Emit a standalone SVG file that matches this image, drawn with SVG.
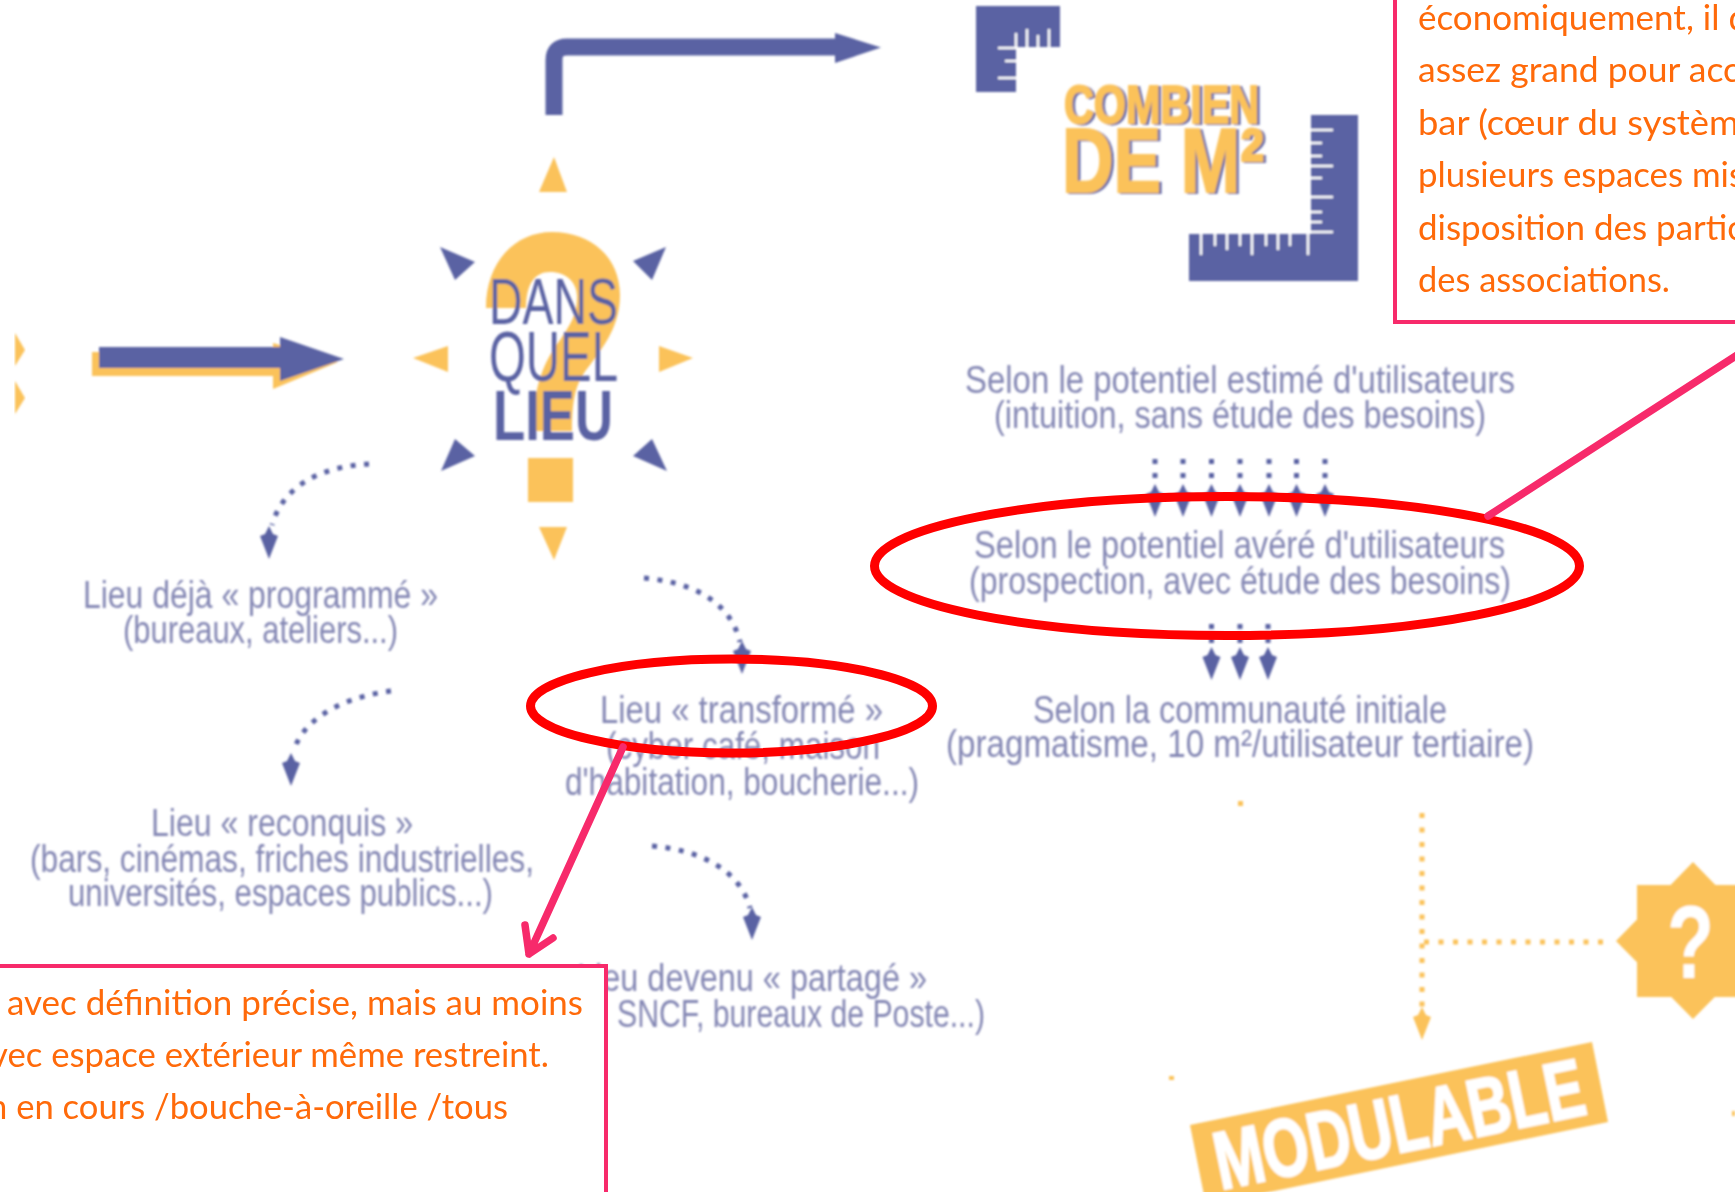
<svg xmlns="http://www.w3.org/2000/svg" xmlns:xlink="http://www.w3.org/1999/xlink" width="1735" height="1192" viewBox="0 0 1735 1192">
<style>
.blue{fill:#5a62a3}
.or{fill:#fbc25a}
.lbl{font-family:"Liberation Sans",Arial,sans-serif;font-size:38px;fill:#8487b4}
.note{font-family:"Lato","Liberation Sans",sans-serif;font-size:34px;fill:#ff6a0a}
.dot{fill:none;stroke:#5a62a3;stroke-width:5;stroke-dasharray:5 8.500}
.dotv{fill:none;stroke:#5a62a3;stroke-width:5;stroke-dasharray:5 9}
.doto{fill:none;stroke:#fbc25a;stroke-width:5;stroke-dasharray:5 9.500}
.pink{fill:none;stroke:#f72a6b;stroke-width:7.500;stroke-linecap:round;stroke-linejoin:round}
.box{fill:#fff;stroke:#f72a6b;stroke-width:4}
.red{fill:none;stroke:#f00;stroke-width:9}
.tick{stroke:#fff;stroke-width:2.500;fill:none}
.h{font-family:"Liberation Sans",Arial,sans-serif}
.heavy{stroke:#fbc25a;stroke-width:2}
</style>
<defs>
<filter id="soft" x="-5%" y="-5%" width="110%" height="110%"><feGaussianBlur stdDeviation="0.8"/></filter>
<filter id="shade" x="-5%" y="-5%" width="110%" height="110%"><feDropShadow dx="2.500" dy="1" stdDeviation="0.600" flood-color="#5a62a3"/></filter>
<path id="dh" d="M0,0 L-9,-23 L-4,-25 L0,-33 L4,-25 L9,-23 Z"/>
</defs>
<rect width="1735" height="1192" fill="#fff"/>
<g id="connectors" filter="url(#soft)">
<path d="M554,115 V60 Q554,47 567,47 H838" fill="none" stroke="#5a62a3" stroke-width="17"/>
<polygon class="blue" points="835,33 881,47.500 835,63"/>
<polygon class="or" points="92,352 273,352 273,343 338,362 273,389 273,376 92,376"/>
<polygon class="blue" points="99,347 280,347 280,337 344,359 280,381 280,368 99,368"/>
<path class="dot" d="M369,464 C330,466 285,480 272,525"/>
<use href="#dh" class="blue" x="269" y="559"/>
<path class="dot" d="M391,691 C350,696 305,715 294,750"/>
<use href="#dh" class="blue" x="291" y="786"/>
<path class="dot" d="M644,578 C690,582 730,600 740,642"/>
<use href="#dh" class="blue" x="742" y="674"/>
<path class="dot" d="M652,846 C700,850 740,870 750,908"/>
<use href="#dh" class="blue" x="752" y="940"/>
<g class="dotv">
<path d="M1155,459V484M1183,459V484M1211.500,459V484M1240,459V484M1269,459V484M1296.500,459V484M1325,459V484"/>
<path d="M1211.500,624V649M1240,624V649M1268,624V649"/>
</g>
<g class="blue">
<use href="#dh" x="1155" y="517"/><use href="#dh" x="1183" y="517"/><use href="#dh" x="1211.500" y="517"/><use href="#dh" x="1240" y="517"/><use href="#dh" x="1269" y="517"/><use href="#dh" x="1296.500" y="517"/><use href="#dh" x="1325" y="517"/>
<use href="#dh" x="1211.500" y="680"/><use href="#dh" x="1240" y="680"/><use href="#dh" x="1268" y="680"/>
</g>
<path class="doto" d="M1422,813V1012M1424,942H1612"/>
<use href="#dh" class="or" x="1422" y="1040"/>
<rect class="or" x="1238" y="801" width="5" height="5"/>
<rect class="or" x="1169" y="1076" width="5" height="4"/>
<rect class="or" x="1732" y="1111" width="3" height="5"/>
</g>
<g id="partial-left" filter="url(#soft)">
<polygon class="or" points="15,333 25,350 15,366"/>
<polygon class="or" points="15,381 25,398 15,414"/>
</g>
<g id="node-lieu" filter="url(#soft)">
<path class="or" d="M486,308 C486,262 515,232 552,232 C592,232 620,258 620,295 C620,325 605,345 590,365 C578,380 572,392 572,431 L533,431 C533,385 545,360 560,340 C570,325 577,315 577,297 C577,282 566,272 550,272 C534,272 526,285 526,308 Z"/>
<g class="or">
<polygon points="554,157 539,192 567,192"/>
<polygon points="413,358 448,346 448,372"/>
<polygon points="693,358 659,346 659,372"/>
<polygon points="554,560 539,527 567,527"/>
<rect x="528" y="458" width="45" height="44"/>
</g>
<g class="blue">
<polygon points="440,247 475,262 455,280"/>
<polygon points="666,247 633,261 652,280"/>
<polygon points="455,439 475,456 441,471"/>
<polygon points="652,439 633,456 667,471"/>
</g>
<text class="h blue" x="489" y="324" font-size="65" textLength="129" lengthAdjust="spacingAndGlyphs">DANS</text>
<text class="h blue" x="489" y="381" font-size="70" textLength="129" lengthAdjust="spacingAndGlyphs">QUEL</text>
<text class="h blue" x="493" y="440" font-size="70" font-weight="bold" textLength="120" lengthAdjust="spacingAndGlyphs">LIEU</text>
</g>
<g id="node-combien" filter="url(#soft)">
<path class="blue" d="M976,6 H1060 V47 H1016 V92 H976 Z"/>
<path class="tick" d="M1016,47V33M1027,47V29M1038,47V35M1049,47V29M1016,48H998M1016,61H1005M1016,78H998"/>
<path class="blue" d="M1311,115 H1358 V281 H1189 V234 H1311 Z"/>
<path class="tick" d="M1311,130H1333M1311,143H1322M1311,156H1322M1311,166H1333M1311,178H1322M1311,197H1333M1311,212H1322M1311,222H1322M1311,232H1333M1201,234V255M1215,234V246M1227,234V250M1240,234V246M1252,234V255M1266,234V246M1278,234V250M1290,234V246M1308,234V255"/>
<g filter="url(#shade)">
<text class="h or heavy" x="1064" y="123" font-size="54" font-weight="bold" textLength="195" lengthAdjust="spacingAndGlyphs">COMBIEN</text>
<text class="h or heavy" x="1062" y="192" font-size="90" font-weight="bold" textLength="202" lengthAdjust="spacingAndGlyphs">DE M²</text>
</g>
</g>
<g id="labels" filter="url(#soft)">
<g id="node-programme"><text class="lbl" x="83" y="608" textLength="355" lengthAdjust="spacingAndGlyphs">Lieu déjà « programmé »</text>
<text class="lbl" x="123" y="643" textLength="275" lengthAdjust="spacingAndGlyphs">(bureaux, ateliers...)</text></g>
<g id="node-reconquis"><text class="lbl" x="151" y="836" textLength="262" lengthAdjust="spacingAndGlyphs">Lieu « reconquis »</text>
<text class="lbl" x="30" y="872" textLength="504" lengthAdjust="spacingAndGlyphs">(bars, cinémas, friches industrielles,</text>
<text class="lbl" x="68" y="906" textLength="425" lengthAdjust="spacingAndGlyphs">universités, espaces publics...)</text></g>
<g id="node-transforme"><text class="lbl" x="600" y="723" textLength="283" lengthAdjust="spacingAndGlyphs">Lieu « transformé »</text>
<text class="lbl" x="606" y="759" textLength="274" lengthAdjust="spacingAndGlyphs">(cyber café, maison</text>
<text class="lbl" x="565" y="795" textLength="354" lengthAdjust="spacingAndGlyphs">d'habitation, boucherie...)</text></g>
<g id="node-partage"><text class="lbl" x="577" y="991" textLength="350" lengthAdjust="spacingAndGlyphs">Lieu devenu « partagé »</text>
<text class="lbl" x="617" y="1027" textLength="368" lengthAdjust="spacingAndGlyphs">SNCF, bureaux de Poste...)</text></g>
<g id="node-estime"><text class="lbl" x="965" y="393" textLength="550" lengthAdjust="spacingAndGlyphs">Selon le potentiel estimé d'utilisateurs</text>
<text class="lbl" x="994" y="428" textLength="492" lengthAdjust="spacingAndGlyphs">(intuition, sans étude des besoins)</text></g>
<g id="node-avere"><text class="lbl" x="974" y="558" textLength="531" lengthAdjust="spacingAndGlyphs">Selon le potentiel avéré d'utilisateurs</text>
<text class="lbl" x="969" y="594" textLength="542" lengthAdjust="spacingAndGlyphs">(prospection, avec étude des besoins)</text></g>
<g id="node-communaute"><text class="lbl" x="1033" y="723" textLength="414" lengthAdjust="spacingAndGlyphs">Selon la communauté initiale</text>
<text class="lbl" x="946" y="757" textLength="588" lengthAdjust="spacingAndGlyphs">(pragmatisme, 10 m²/utilisateur tertiaire)</text></g>
</g>
<g id="node-question" filter="url(#soft)">
<rect class="or" x="1637" y="885" width="112" height="112"/>
<polygon class="or" points="1693,862 1770,941 1693,1019 1616,941"/>
<text class="h" x="1667" y="978" font-size="104" font-weight="bold" fill="#fff" textLength="47" lengthAdjust="spacingAndGlyphs">?</text>
</g>
<g id="node-modulable" filter="url(#soft)">
<polygon class="or" points="1190,1125 1592,1042 1608,1122 1206,1205"/>
<text class="h" transform="translate(1399,1123.500) rotate(-11.700)" x="-188" y="29" font-size="82" font-weight="bold" fill="#fff" stroke="#fff" stroke-width="2" textLength="376" lengthAdjust="spacingAndGlyphs">MODULABLE</text>
</g>
<g id="annotations">
<ellipse class="red" cx="1227" cy="566" rx="352.500" ry="69.500"/>
<ellipse class="red" cx="731.500" cy="706" rx="201" ry="47"/>
<path class="pink" d="M1488,516 L1745,350"/>
<path class="pink" d="M623,747 L529,954 M525,925 L529,954 L553,938"/>
<g id="node-note-right">
<path class="box" d="M1395,-6 V322 H1745 V-6 Z"/>
<g class="note">
<text x="1418" y="30" textLength="330" lengthAdjust="spacingAndGlyphs">économiquement, il d</text>
<text x="1418" y="82" textLength="322" lengthAdjust="spacingAndGlyphs">assez grand pour acc</text>
<text x="1418" y="135" textLength="340" lengthAdjust="spacingAndGlyphs">bar (cœur du système</text>
<text x="1418" y="187" textLength="326" lengthAdjust="spacingAndGlyphs">plusieurs espaces mis</text>
<text x="1418" y="240" textLength="326" lengthAdjust="spacingAndGlyphs">disposition des partic</text>
<text x="1418" y="292" textLength="252" lengthAdjust="spacingAndGlyphs">des associations.</text>
</g>
</g>
<g id="node-note-left">
<path class="box" d="M-6,966 H606 V1198 H-6 Z"/>
<g class="note">
<text x="7" y="1015" textLength="576" lengthAdjust="spacingAndGlyphs">avec définition précise, mais au moins</text>
<text x="-10" y="1067" textLength="559" lengthAdjust="spacingAndGlyphs">vec espace extérieur même restreint.</text>
<text x="-12" y="1119" textLength="520" lengthAdjust="spacingAndGlyphs">n en cours /bouche-à-oreille /tous</text>
</g>
</g>
</g>
</svg>
